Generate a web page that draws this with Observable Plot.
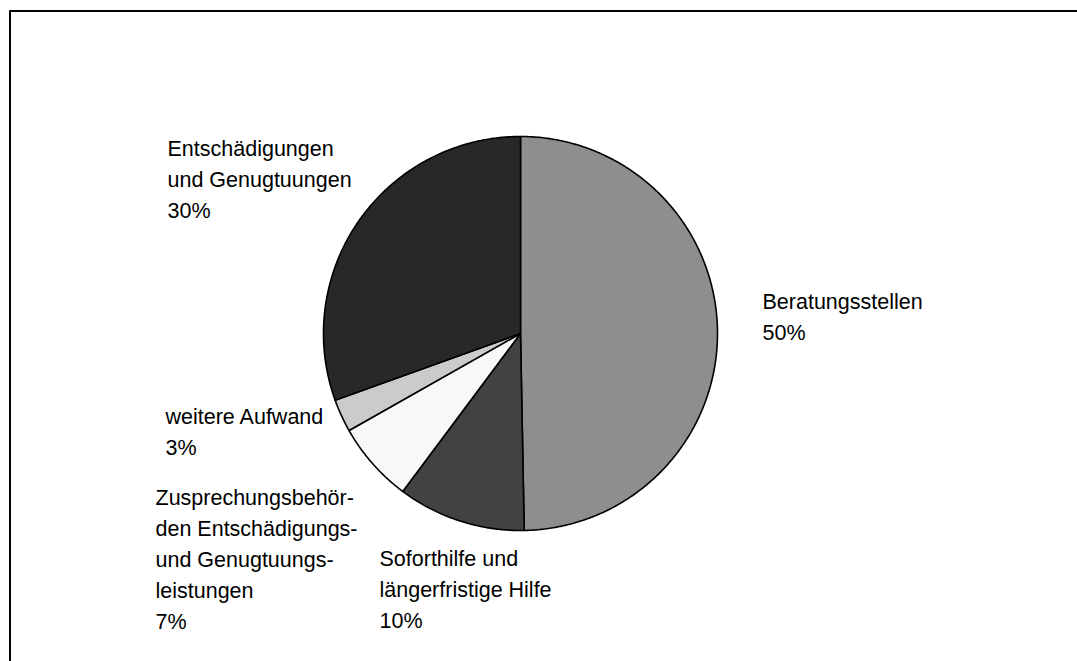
<!DOCTYPE html>
<html>
<head>
<meta charset="utf-8">
<script src="https://cdn.jsdelivr.net/npm/d3@7"></script>
<script src="https://cdn.jsdelivr.net/npm/@observablehq/plot@0.6"></script>
<style>
  html, body { margin: 0; padding: 0; background: #fff; overflow: hidden; }
  #chart { width: 1077px; height: 661px; overflow: hidden; }
  #chart svg { max-width: none !important; display: block; }
</style>
</head>
<body>
<div id="chart"></div>
<script>
// ---- data ----
const categories = [
  "Beratungsstellen",
  "Soforthilfe und längerfristige Hilfe",
  "Zusprechungsbehörden Entschädigungs- und Genugtuungsleistungen",
  "weitere Aufwand",
  "Entschädigungen und Genugtuungen"
];
const shares = [49.7, 10.5, 6.6, 2.7, 30.5];
const percentLabels = ["50%", "10%", "7%", "3%", "30%"];
const labelLines = [
  ["Beratungsstellen"],
  ["Soforthilfe und", "längerfristige Hilfe"],
  ["Zusprechungsbehör-", "den Entschädigungs-", "und Genugtuungs-", "leistungen"],
  ["weitere Aufwand"],
  ["Entschädigungen", "und Genugtuungen"]
];

// ---- layout / style ----
const W = 1077, H = 661;
const cx = 520, cy = 333, R = 197;
const frameLeft = 9.5, frameTop = 10.5;
const sliceColors = ["#8e8e8e", "#424242", "#f8f8f8", "#cbcbcb", "#282828"];
const labelAnchorsPx = [
  [762, 300], [379, 557], [155, 496], [165, 415], [167, 147]
];
const fontSize = 21.5;
const lineGap = 31;
const firstLineShift = 14;

// slice polygons from d3.pie angles (clockwise from 12 o'clock)
const arcs = d3.pie().sort(null).startAngle(0).endAngle(2 * Math.PI)(shares);
const pts = [];
arcs.forEach((a, i) => {
  const name = categories[i];
  pts.push({name, x: 0, y: 0});
  const n = Math.max(2, Math.ceil((a.endAngle - a.startAngle) / (Math.PI / 360)));
  for (let k = 0; k <= n; k++) {
    const t = a.startAngle + (a.endAngle - a.startAngle) * k / n;
    pts.push({name, x: Math.sin(t), y: Math.cos(t)});
  }
});

const labels = categories.map((name, i) => ({
  name,
  x: (labelAnchorsPx[i][0] - cx) / R,
  y: (cy - (labelAnchorsPx[i][1] - firstLineShift)) / R,
  text: [...labelLines[i], percentLabels[i]].join("\n")
}));

const chart = Plot.plot({
  width: W,
  height: H,
  marginLeft: frameLeft,
  marginTop: frameTop,
  marginRight: 0,
  marginBottom: 0,
  style: {fontFamily: "'Liberation Sans', Arial, sans-serif", background: "#fff", overflow: "hidden"},
  x: {domain: [-1, 1], range: [cx - R, cx + R], axis: null},
  y: {domain: [-1, 1], range: [cy + R, cy - R], axis: null},
  color: {type: "ordinal", domain: categories, range: sliceColors},
  marks: [
    Plot.ruleY([(cy - frameTop) / R], {stroke: "#000", strokeWidth: 2}),
    Plot.ruleX([(frameLeft - cx) / R], {stroke: "#000", strokeWidth: 2}),
    Plot.line(pts, {
      x: "x", y: "y", z: "name", fill: "name",
      stroke: "#000", strokeWidth: 1.6, strokeLinejoin: "round",
      curve: "linear-closed"
    }),
    Plot.text(labels, {
      x: "x", y: "y", text: "text",
      textAnchor: "start", lineAnchor: "top",
      lineHeight: lineGap / fontSize,
      fontSize: fontSize, fill: "#000"
    })
  ]
});
document.getElementById("chart").appendChild(chart);
</script>
</body>
</html>
